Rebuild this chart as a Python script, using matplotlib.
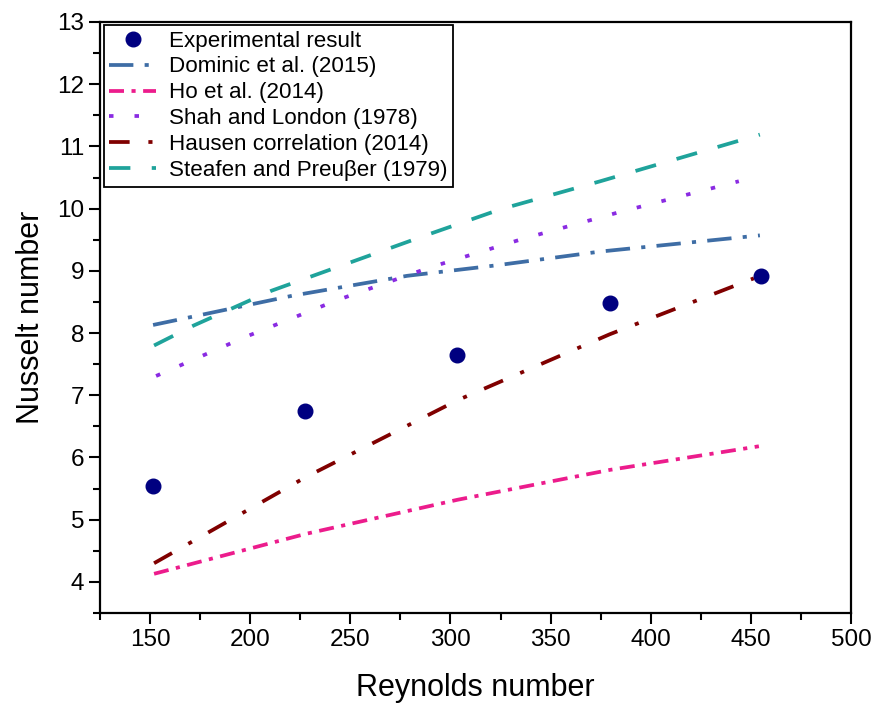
import matplotlib
matplotlib.use("Agg")
import matplotlib.pyplot as plt
from matplotlib.ticker import MultipleLocator

# Experimental points
re_exp = [151.5, 227.5, 303.5, 379.5, 455.0]
nu_exp = [5.54, 6.75, 7.64, 8.49, 8.92]

# Correlations (Reynolds / Nusselt pairs)
re_dominic = [151.5, 169.3, 221.0, 278.4, 323.3, 374.8, 454.5]
nu_dominic = [8.13, 8.25, 8.60, 8.92, 9.09, 9.31, 9.57]

re_ho = [152.0, 227.5, 303.5, 379.5, 454.0]
nu_ho = [4.13, 4.77, 5.32, 5.80, 6.18]

re_shah = [153.0, 197.8, 243.5, 289.3, 335.7, 383.9, 444.0]
nu_shah = [7.31, 7.94, 8.53, 9.05, 9.51, 9.94, 10.44]

re_hausen = [152.0, 227.5, 303.5, 379.5, 451.5]
nu_hausen = [4.30, 5.68, 6.92, 7.98, 8.88]

re_steafen = [152.0, 171.7, 210.6, 286.7, 325.0, 374.8, 454.5]
nu_steafen = [7.80, 8.12, 8.68, 9.56, 9.99, 10.44, 11.19]

plt.rcParams['font.family'] = ['Liberation Sans', 'DejaVu Sans']

fig = plt.figure(figsize=(8.73, 7.07), dpi=100)
ax = fig.add_axes([100 / 873, 1 - 613 / 707, 751 / 873, 591 / 707])

lw = 2.7
ax.plot(re_exp, nu_exp, 'o', color='#000080', markersize=10.5, label='Experimental result', zorder=5)
ax.plot(re_dominic, nu_dominic, color='#3E6DA5', lw=lw, dashes=(6.5, 3, 1.1, 3),
        label='Dominic et al. (2015)')
ax.plot(re_ho, nu_ho, color='#EC1C8C', lw=lw, dashes=(4, 2, 1.1, 2),
        label='Ho et al. (2014)')
ax.plot(re_shah, nu_shah, color='#8A2BE2', lw=lw, dashes=(1.2, 5.6),
        label='Shah and London (1978)')
ax.plot(re_hausen, nu_hausen, color='#800000', lw=lw, dashes=(5.5, 5, 1.1, 5),
        label='Hausen correlation (2014)')
ax.plot(re_steafen, nu_steafen, color='#1FA39B', lw=lw, dashes=(5.7, 5.7),
        label='Steafen and Preuβer (1979)')

ax.set_xlim(125, 500)
ax.set_ylim(3.5, 13)
ax.xaxis.set_major_locator(MultipleLocator(50))
ax.xaxis.set_minor_locator(MultipleLocator(25))
ax.yaxis.set_major_locator(MultipleLocator(1))
ax.yaxis.set_minor_locator(MultipleLocator(0.5))

for s in ax.spines.values():
    s.set_linewidth(1.6)
ax.tick_params(which='both', direction='out', width=1.5, labelsize=17.5, top=False, right=False)
ax.tick_params(which='major', length=8)
ax.tick_params(which='minor', length=5)

ax.set_xlabel('Reynolds number', fontsize=22, labelpad=16)
ax.set_ylabel('Nusselt number', fontsize=22, labelpad=8)

leg = ax.legend(loc='upper left', bbox_to_anchor=(0.005, 0.995), borderaxespad=0,
                fontsize=16.1, frameon=True, fancybox=False, edgecolor='black',
                handlelength=2.1, handletextpad=0.55, labelspacing=0.22, borderpad=0.25)
leg.get_frame().set_linewidth(1.3)
leg.get_frame().set_alpha(None)

fig.savefig('out.png', dpi=100, facecolor='white')
